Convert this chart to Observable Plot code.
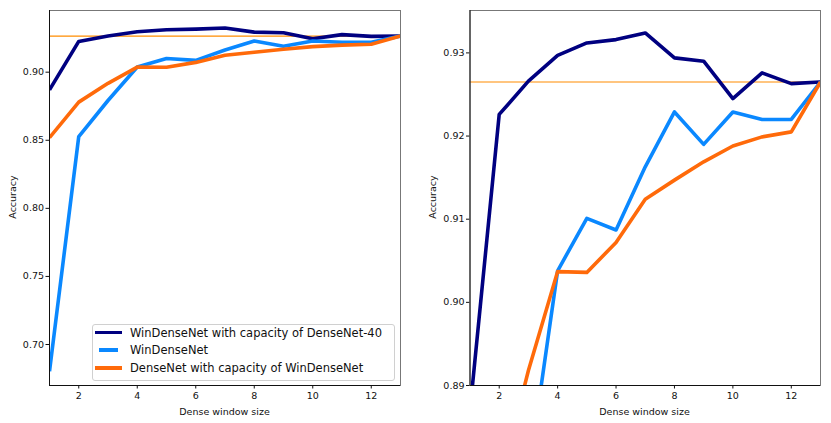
<!DOCTYPE html>
<html>
<head>
<meta charset="utf-8">
<script src="https://cdn.jsdelivr.net/npm/d3@7"></script>
<script src="https://cdn.jsdelivr.net/npm/@observablehq/plot@0.6"></script>
<style>
  html, body { margin: 0; padding: 0; background: #fff; }
  #wrap { position: relative; width: 831px; height: 423px; font-family: "DejaVu Sans", sans-serif; color: #111; }
  .panel { position: absolute; top: 0; }
  .ylab { position: absolute; font-size: 9.5px; transform: translate(-50%, -50%) rotate(-90deg); white-space: nowrap; }
  .xlab { position: absolute; font-size: 9.5px; transform: translate(-50%, -50%); white-space: nowrap; }
  #legend { position: absolute; left: 91.5px; top: 323.5px; width: 301px; height: 55px; border: 1px solid #d0d0d0; border-radius: 3px; background: rgba(255,255,255,0.85); font-size: 11.5px; }
  #legend .row { position: absolute; left: 0; height: 17px; display: flex; align-items: center; }
  #legend .swbox { width: 27px; margin-left: 2px; margin-right: 8.5px; display: flex; justify-content: center; }
  #legend .sw { height: 3.5px; }
</style>
</head>
<body>
<div id="wrap"></div>
<script>
// ---- data ----
const windowSizes = [1, 2, 3, 4, 5, 6, 7, 8, 9, 10, 11, 12, 13];
const seriesNames = [
  "WinDenseNet with capacity of DenseNet-40",
  "WinDenseNet",
  "DenseNet with capacity of WinDenseNet"
];
const winDenseNet40 = [0.8870, 0.9226, 0.9266, 0.9297, 0.9312, 0.9316, 0.9324, 0.9294, 0.9290, 0.9245, 0.9276, 0.9263, 0.9265];
const winDenseNet   = [0.6804, 0.8527, 0.8792, 0.9038, 0.9101, 0.9087, 0.9163, 0.9229, 0.9190, 0.9229, 0.9220, 0.9220, 0.9265];
const denseNetCap   = [0.8519, 0.8780, 0.8918, 0.9037, 0.9036, 0.9072, 0.9124, 0.9147, 0.9169, 0.9188, 0.9199, 0.9205, 0.9265];
const baselineAcc = 0.9265;
const seriesColors = ["#000080", "#0a88ff", "#ff6a0a"];
const baselineColor = "#ff8c00";
const xTicks = [2, 4, 6, 8, 10, 12];
const leftYTicks = [0.70, 0.75, 0.80, 0.85, 0.90];
const rightYTicks = [0.89, 0.90, 0.91, 0.92, 0.93];
const leftYDomain = [0.6699, 0.9453];
const rightYDomain = [0.89, 0.9351];
const xLabel = "Dense window size";
const yLabel = "Accuracy";

// build long table
const allSeries = [winDenseNet40, winDenseNet, denseNetCap];
const rows = [];
allSeries.forEach((vals, si) => {
  vals.forEach((v, i) => rows.push({x: windowSizes[i], y: v, s: seriesNames[si]}));
});

function panel(opts) {
  const {width, ml, mr, yDomain, yTicks} = opts;
  return Plot.plot({
    width, height: 423,
    marginLeft: ml, marginRight: mr, marginTop: 10, marginBottom: 38,
    style: {fontFamily: "DejaVu Sans", fontSize: "9.5px", color: "#111", background: "transparent"},
    x: {domain: [windowSizes[0], windowSizes[windowSizes.length - 1]], ticks: xTicks, tickSize: 3.5, tickPadding: 3, label: null},
    y: {domain: yDomain, ticks: yTicks, tickSize: 3.5, tickPadding: 2, tickFormat: d3.format(".2f"), label: null},
    color: {domain: seriesNames, range: seriesColors},
    marks: [
      Plot.ruleY([baselineAcc], {stroke: baselineColor, strokeWidth: 1.1}),
      Plot.line(rows, {x: "x", y: "y", z: "s", stroke: "s", strokeWidth: 3.6, clip: true, strokeLinejoin: "round", strokeLinecap: "butt"}),
      Plot.frame({stroke: "#777", strokeWidth: 1}),
      Plot.ruleX([windowSizes[0]], {stroke: "#111", strokeWidth: 1}),
      Plot.ruleY([yDomain[0]], {stroke: "#111", strokeWidth: 1})
    ]
  });
}

const wrap = document.getElementById("wrap");

const left = panel({width: 415, ml: 49, mr: 15, yDomain: leftYDomain, yTicks: leftYTicks});
const ldiv = document.createElement("div"); ldiv.className = "panel"; ldiv.style.left = "0px"; ldiv.appendChild(left);
wrap.appendChild(ldiv);

const right = panel({width: 416, ml: 54.5, mr: 11, yDomain: rightYDomain, yTicks: rightYTicks});
const rdiv = document.createElement("div"); rdiv.className = "panel"; rdiv.style.left = "415px"; rdiv.appendChild(right);
wrap.appendChild(rdiv);

function addLabel(cls, text, x, y) {
  const d = document.createElement("div");
  d.className = cls; d.textContent = text;
  d.style.left = x + "px"; d.style.top = y + "px";
  wrap.appendChild(d);
}
addLabel("ylab", yLabel, 12, 197);
addLabel("ylab", yLabel, 431.5, 197);
addLabel("xlab", xLabel, 224.5, 411);
addLabel("xlab", xLabel, 644.5, 411);

// legend
const swatchWidths = [27, 19, 27];
const lg = document.createElement("div"); lg.id = "legend";
seriesNames.forEach((name, i) => {
  const r = document.createElement("div"); r.className = "row";
  r.style.top = [-0.5, 17.2, 35.2][i] + "px";
  const box = document.createElement("div"); box.className = "swbox";
  const sw = document.createElement("div"); sw.className = "sw";
  sw.style.background = seriesColors[i]; sw.style.width = swatchWidths[i] + "px";
  box.appendChild(sw);
  const t = document.createElement("span"); t.textContent = name;
  r.appendChild(box); r.appendChild(t); lg.appendChild(r);
});
wrap.appendChild(lg);
</script>
</body>
</html>
